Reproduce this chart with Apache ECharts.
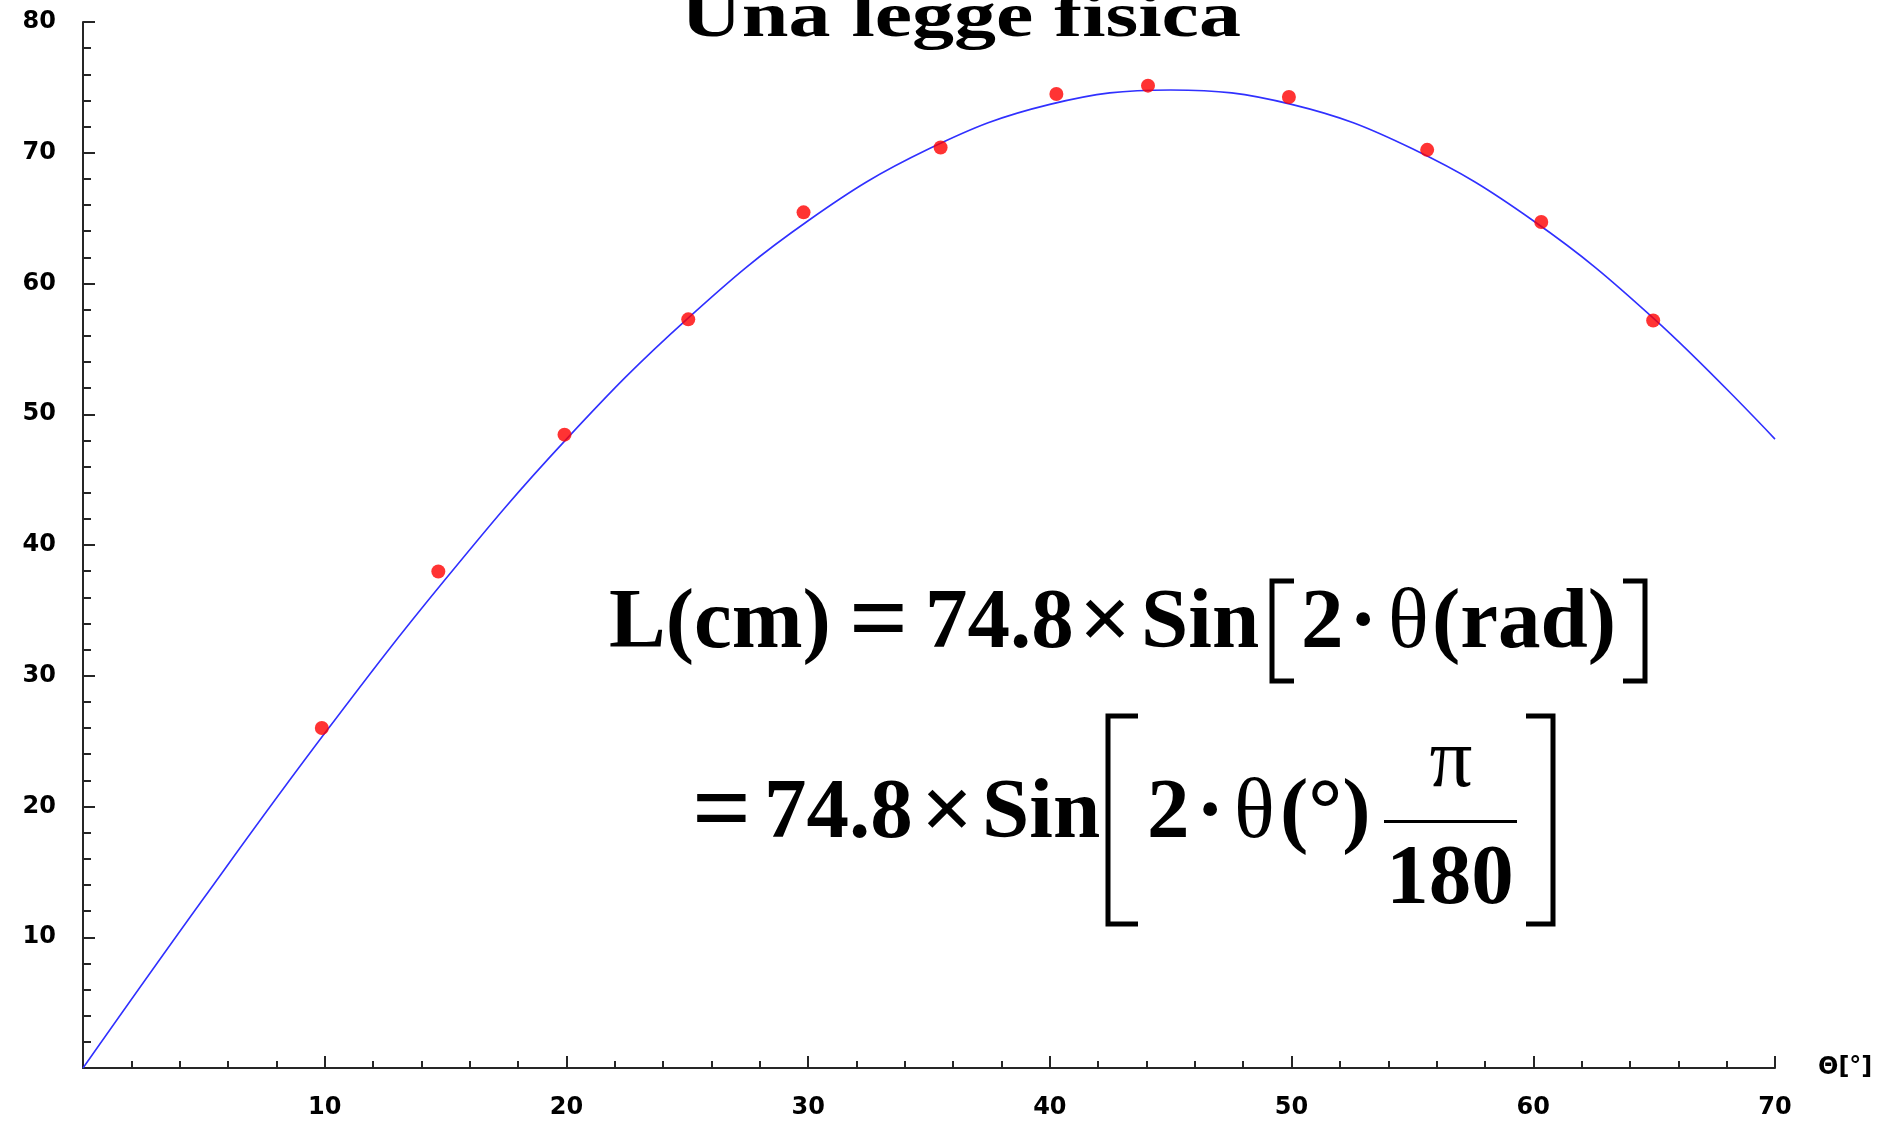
<!DOCTYPE html>
<html>
<head>
<meta charset="utf-8">
<script src="https://cdn.jsdelivr.net/npm/echarts@6/dist/echarts.min.js"></script>
<style>
  html, body { margin: 0; padding: 0; background: #ffffff; }
  #chart { width: 1884px; height: 1124px; }
</style>
</head>
<body>
<div id="chart"></div>
<script>
// Fitted curve L(θ), sampled every 5 degrees
const curveAngles = [0, 5, 10, 15, 20, 25, 30, 35, 40, 45, 50, 55, 60, 65, 70];
const curveLengths = [0, 13.0, 25.6, 37.4, 48.1, 57.3, 64.8, 70.3, 73.7, 74.8, 73.7, 70.3, 64.8, 57.3, 48.1];

// Measured points
const measuredAngles = [9.88, 14.70, 19.92, 25.04, 29.81, 35.48, 40.27, 44.06, 49.89, 55.61, 60.33, 64.96];
const measuredLengths = [26.0, 37.97, 48.44, 57.26, 65.44, 70.40, 74.49, 75.13, 74.26, 70.22, 64.70, 57.17];

// Axis settings
const xTicks = { min: 0, max: 70, interval: 10 };
const yTicks = { min: 0, max: 80, interval: 10 };

const titleText = 'Una legge fisica';
const xAxisName = 'Θ[°]';

const chart = echarts.init(document.getElementById('chart'), null, { renderer: 'canvas' });

const axisColor = '#262626';
const tickFont = { fontFamily: 'DejaVu Sans', fontWeight: 'bold', fontSize: 24, color: '#000' };
const serif = 'Liberation Serif';
const F = 85;

function txt(text, x, y, opts) {
  opts = opts || {};
  return {
    type: 'text',
    x: x, y: y,
    scaleX: opts.scaleX || 1,
    scaleY: opts.scaleY || 1,
    z: 10,
    style: {
      text: text,
      x: 0, y: 0,
      fill: '#000',
      font: (opts.weight || 'bold') + ' ' + (opts.size || F) + 'px "' + serif + '"',
      align: opts.align || 'left',
      verticalAlign: 'middle'
    }
  };
}
function bracket(xv, xe, y1, y2) {
  return {
    type: 'polyline', z: 10,
    shape: { points: [[xe, y1], [xv, y1], [xv, y2], [xe, y2]] },
    style: { stroke: '#000', lineWidth: 5, fill: null, lineJoin: 'miter' }
  };
}

const l1 = 625, l2 = 815;

chart.setOption({
  backgroundColor: '#ffffff',
  animation: false,
  grid: { left: 83, right: 109, top: 22, bottom: 56, containLabel: false },
  xAxis: {
    type: 'value',
    min: xTicks.min, max: xTicks.max, interval: xTicks.interval,
    name: xAxisName,
    nameLocation: 'end',
    nameGap: 43,
    nameTextStyle: { fontFamily: 'DejaVu Sans', fontWeight: 'bold', fontSize: 24, color: '#000', verticalAlign: 'middle' },
    axisLine: { show: true, onZero: false, lineStyle: { color: axisColor, width: 2 } },
    axisTick: { show: true, inside: true, length: 12, lineStyle: { color: axisColor, width: 2 } },
    minorTick: { show: true, splitNumber: 5, length: 7, lineStyle: { color: axisColor, width: 2 } },
    axisLabel: Object.assign({ margin: 28, formatter: v => (v === 0 ? '' : String(v)) }, tickFont),
    splitLine: { show: false }
  },
  yAxis: {
    type: 'value',
    min: yTicks.min, max: yTicks.max, interval: yTicks.interval,
    axisLine: { show: true, onZero: false, lineStyle: { color: axisColor, width: 2 } },
    axisTick: { show: true, inside: true, length: 12, lineStyle: { color: axisColor, width: 2 } },
    minorTick: { show: true, splitNumber: 5, length: 8, lineStyle: { color: axisColor, width: 2 } },
    axisLabel: Object.assign({ margin: 27, formatter: v => (v === 0 ? '' : String(v)) }, tickFont),
    splitLine: { show: false }
  },
  series: [
    {
      type: 'line',
      data: curveAngles.map((a, i) => [a, curveLengths[i]]),
      smooth: 0.4,
      showSymbol: false,
      lineStyle: { color: '#3030ff', width: 1.6 },
      z: 2
    },
    {
      type: 'scatter',
      data: measuredAngles.map((a, i) => [a, measuredLengths[i]]),
      symbol: 'circle',
      symbolSize: 14,
      itemStyle: { color: '#ff0000' },
      z: 3
    }
  ],
  graphic: [
    // title, partly above the top edge
    txt(titleText, 681, 20, { size: 84, scaleY: 0.76 }),
    // first line of the formula
    txt('L(cm)', 609, l1),
    txt('=', 849, l1, { size: 104 }),
    txt('74.8', 925, l1),
    txt('×', 1079, l1, { size: 92 }),
    txt('Sin', 1141, l1),
    bracket(1272, 1294, 581, 681),
    txt('2', 1301, l1),
    txt('·', 1349, l1),
    txt('θ', 1388, l1, { weight: 'normal' }),
    txt('(rad)', 1432, l1),
    bracket(1645, 1623, 581, 681),
    // second line of the formula
    txt('=', 692, l2, { size: 104 }),
    txt('74.8', 764, l2),
    txt('×', 921, l2, { size: 92 }),
    txt('Sin', 982, l2),
    bracket(1108, 1138, 716, 924),
    txt('2', 1147, l2),
    txt('·', 1196, l2),
    txt('θ', 1234, l2, { weight: 'normal' }),
    txt('(°)', 1280, l2),
    { type: 'rect', z: 10, shape: { x: 1384, y: 820, width: 133, height: 3 }, style: { fill: '#000' } },
    txt('π', 1451, 764, { align: 'center', weight: 'normal' }),
    txt('180', 1450, 881, { align: 'center' }),
    bracket(1553, 1526, 716, 924)
  ]
});
</script>
</body>
</html>
